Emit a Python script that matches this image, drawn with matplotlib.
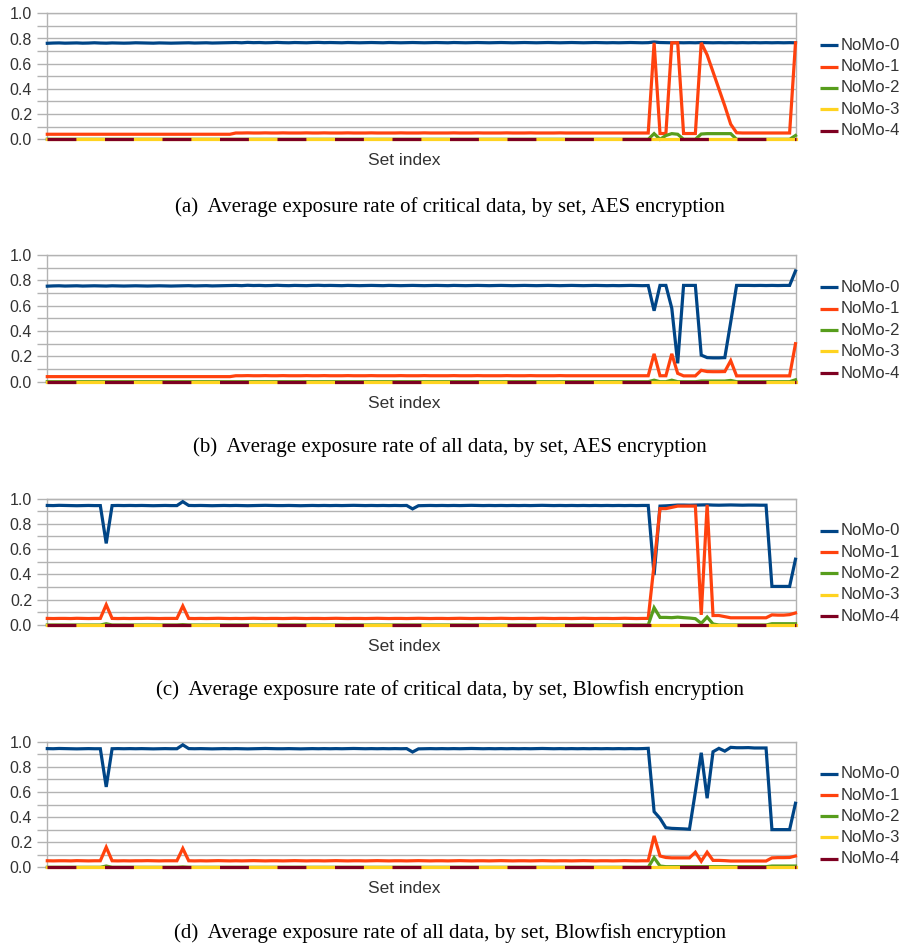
import matplotlib
matplotlib.use("Agg")
import matplotlib.pyplot as plt
from matplotlib.lines import Line2D
from matplotlib.ticker import MultipleLocator

plt.rcParams['lines.scale_dashes'] = False

series_names = ["NoMo-0", "NoMo-1", "NoMo-2", "NoMo-3", "NoMo-4"]
series_colors = ["#004586", "#ff420e", "#579d1c", "#ffd320", "#7e0021"]
x_label = "Set index"
captions = [
    "(a)  Average exposure rate of critical data, by set, AES encryption",
    "(b)  Average exposure rate of all data, by set, AES encryption",
    "(c)  Average exposure rate of critical data, by set, Blowfish encryption",
    "(d)  Average exposure rate of all data, by set, Blowfish encryption",
]
y_ticks = [0.0, 0.2, 0.4, 0.6, 0.8, 1.0]
y_tick_labels = ["0.0", "0.2", "0.4", "0.6", "0.8", "1.0"]

# ---------------- panel (a) ----------------
a_nomo0 = [
    0.762, 0.764, 0.765, 0.763, 0.764, 0.765, 0.763, 0.764, 0.766, 0.764, 0.763, 0.765, 0.764, 0.763, 0.764, 0.766,
    0.765, 0.764, 0.763, 0.765, 0.764, 0.763, 0.764, 0.765, 0.766, 0.764, 0.765, 0.766, 0.764, 0.765, 0.766, 0.767,
    0.768, 0.766, 0.769, 0.767, 0.768, 0.766, 0.767, 0.769, 0.767, 0.766, 0.768, 0.767, 0.766, 0.768, 0.769, 0.767,
    0.768, 0.767, 0.766, 0.768, 0.767, 0.766, 0.767, 0.768, 0.767, 0.766, 0.768, 0.767, 0.766, 0.767, 0.768, 0.767,
    0.766, 0.767, 0.768, 0.767, 0.766, 0.768, 0.767, 0.766, 0.767, 0.768, 0.767, 0.766, 0.767, 0.768, 0.767, 0.766,
    0.767, 0.768, 0.767, 0.766, 0.767, 0.768, 0.767, 0.766, 0.767, 0.768, 0.767, 0.766, 0.767, 0.768, 0.767, 0.766,
    0.767, 0.766, 0.767, 0.768, 0.767, 0.766, 0.767, 0.772, 0.768, 0.767, 0.766, 0.767, 0.766, 0.767, 0.766, 0.768,
    0.767, 0.766, 0.767, 0.766, 0.767, 0.766, 0.767, 0.766, 0.767, 0.766, 0.767, 0.766, 0.767, 0.766, 0.767, 0.766,
]
a_nomo1 = [
    0.040, 0.040, 0.040, 0.040, 0.040, 0.040, 0.040, 0.040, 0.040, 0.040, 0.040, 0.040, 0.040, 0.040, 0.040, 0.040,
    0.040, 0.040, 0.040, 0.040, 0.040, 0.040, 0.040, 0.040, 0.040, 0.040, 0.040, 0.040, 0.040, 0.040, 0.040, 0.040,
    0.050, 0.050, 0.051, 0.050, 0.050, 0.051, 0.050, 0.050, 0.051, 0.050, 0.050, 0.050, 0.051, 0.050, 0.050, 0.051,
    0.050, 0.050, 0.050, 0.051, 0.050, 0.050, 0.050, 0.051, 0.050, 0.050, 0.050, 0.050, 0.051, 0.050, 0.050, 0.050,
    0.051, 0.050, 0.050, 0.050, 0.050, 0.051, 0.050, 0.050, 0.050, 0.051, 0.050, 0.050, 0.050, 0.050, 0.051, 0.050,
    0.050, 0.050, 0.051, 0.050, 0.050, 0.050, 0.050, 0.051, 0.050, 0.050, 0.050, 0.050, 0.050, 0.050, 0.050, 0.050,
    0.050, 0.050, 0.050, 0.050, 0.050, 0.050, 0.050, 0.766, 0.046, 0.046, 0.766, 0.766, 0.046, 0.046, 0.046, 0.766,
    0.670, 0.535, 0.400, 0.265, 0.120, 0.052, 0.050, 0.050, 0.050, 0.050, 0.050, 0.050, 0.050, 0.050, 0.050, 0.766,
]
a_nomo2 = [
    0.0, 0.0, 0.0, 0.0, 0.0, 0.0, 0.0, 0.0, 0.0, 0.0, 0.0, 0.0, 0.0, 0.0, 0.0, 0.0,
    0.0, 0.0, 0.0, 0.0, 0.0, 0.0, 0.0, 0.0, 0.0, 0.0, 0.0, 0.0, 0.0, 0.0, 0.0, 0.0,
    0.0, 0.0, 0.0, 0.0, 0.0, 0.0, 0.0, 0.0, 0.0, 0.0, 0.0, 0.0, 0.0, 0.0, 0.0, 0.0,
    0.0, 0.0, 0.0, 0.0, 0.0, 0.0, 0.0, 0.0, 0.0, 0.0, 0.0, 0.0, 0.0, 0.0, 0.0, 0.0,
    0.0, 0.0, 0.0, 0.0, 0.0, 0.0, 0.0, 0.0, 0.0, 0.0, 0.0, 0.0, 0.0, 0.0, 0.0, 0.0,
    0.0, 0.0, 0.0, 0.0, 0.0, 0.0, 0.0, 0.0, 0.0, 0.0, 0.0, 0.0, 0.0, 0.0, 0.0, 0.0,
    0.0, 0.0, 0.0, 0.0, 0.0, 0.0, 0.0, 0.045, 0.0, 0.030, 0.045, 0.040, 0.0, 0.0, 0.0, 0.042,
    0.045, 0.045, 0.045, 0.045, 0.045, 0.0, 0.0, 0.0, 0.0, 0.0, 0.0, 0.0, 0.0, 0.0, 0.0, 0.030,
]

# ---------------- panel (b) ----------------
b_nomo0 = [
    0.754, 0.756, 0.757, 0.755, 0.756, 0.757, 0.755, 0.756, 0.757, 0.756, 0.755, 0.757, 0.756, 0.755, 0.756, 0.757,
    0.756, 0.755, 0.756, 0.757, 0.756, 0.755, 0.756, 0.757, 0.758, 0.756, 0.757, 0.758, 0.756, 0.757, 0.758, 0.759,
    0.760, 0.758, 0.761, 0.759, 0.760, 0.758, 0.759, 0.761, 0.759, 0.758, 0.760, 0.759, 0.758, 0.760, 0.761, 0.759,
    0.760, 0.759, 0.758, 0.760, 0.759, 0.758, 0.759, 0.760, 0.759, 0.758, 0.760, 0.759, 0.758, 0.759, 0.760, 0.759,
    0.758, 0.759, 0.760, 0.759, 0.758, 0.760, 0.759, 0.758, 0.759, 0.760, 0.759, 0.758, 0.759, 0.760, 0.759, 0.758,
    0.759, 0.760, 0.759, 0.758, 0.759, 0.760, 0.759, 0.758, 0.759, 0.760, 0.759, 0.758, 0.759, 0.760, 0.759, 0.758,
    0.759, 0.758, 0.759, 0.760, 0.759, 0.758, 0.759, 0.560, 0.760, 0.760, 0.580, 0.145, 0.760, 0.760, 0.760, 0.210,
    0.190, 0.188, 0.188, 0.190, 0.470, 0.760, 0.760, 0.760, 0.759, 0.760, 0.759, 0.760, 0.759, 0.760, 0.760, 0.874,
]
b_nomo1 = [
    0.040, 0.040, 0.040, 0.040, 0.040, 0.040, 0.040, 0.040, 0.040, 0.040, 0.040, 0.040, 0.040, 0.040, 0.040, 0.040,
    0.040, 0.040, 0.040, 0.040, 0.040, 0.040, 0.040, 0.040, 0.040, 0.040, 0.040, 0.040, 0.040, 0.040, 0.040, 0.040,
    0.047, 0.047, 0.048, 0.047, 0.047, 0.048, 0.047, 0.047, 0.048, 0.047, 0.047, 0.047, 0.048, 0.047, 0.047, 0.048,
    0.047, 0.047, 0.047, 0.048, 0.047, 0.047, 0.047, 0.048, 0.047, 0.047, 0.047, 0.047, 0.048, 0.047, 0.047, 0.047,
    0.048, 0.047, 0.047, 0.047, 0.047, 0.048, 0.047, 0.047, 0.047, 0.048, 0.047, 0.047, 0.047, 0.047, 0.048, 0.047,
    0.047, 0.047, 0.048, 0.047, 0.047, 0.047, 0.047, 0.048, 0.047, 0.047, 0.047, 0.047, 0.047, 0.047, 0.047, 0.047,
    0.047, 0.047, 0.047, 0.047, 0.047, 0.047, 0.047, 0.220, 0.047, 0.047, 0.220, 0.066, 0.046, 0.046, 0.046, 0.090,
    0.080, 0.079, 0.079, 0.080, 0.166, 0.046, 0.046, 0.046, 0.046, 0.046, 0.046, 0.046, 0.046, 0.046, 0.046, 0.300,
]
b_nomo2 = [
    0.0, 0.0, 0.0, 0.0, 0.0, 0.0, 0.0, 0.0, 0.0, 0.0, 0.0, 0.0, 0.0, 0.0, 0.0, 0.0,
    0.0, 0.0, 0.0, 0.0, 0.0, 0.0, 0.0, 0.0, 0.0, 0.0, 0.0, 0.0, 0.0, 0.0, 0.0, 0.0,
    0.0, 0.0, 0.0, 0.0, 0.0, 0.0, 0.0, 0.0, 0.0, 0.0, 0.0, 0.0, 0.0, 0.0, 0.0, 0.0,
    0.0, 0.0, 0.0, 0.0, 0.0, 0.0, 0.0, 0.0, 0.0, 0.0, 0.0, 0.0, 0.0, 0.0, 0.0, 0.0,
    0.0, 0.0, 0.0, 0.0, 0.0, 0.0, 0.0, 0.0, 0.0, 0.0, 0.0, 0.0, 0.0, 0.0, 0.0, 0.0,
    0.0, 0.0, 0.0, 0.0, 0.0, 0.0, 0.0, 0.0, 0.0, 0.0, 0.0, 0.0, 0.0, 0.0, 0.0, 0.0,
    0.0, 0.0, 0.0, 0.0, 0.0, 0.0, 0.0, 0.012, 0.0, 0.0, 0.012, 0.0, 0.0, 0.0, 0.0, 0.005,
    0.005, 0.005, 0.005, 0.005, 0.010, 0.0, 0.0, 0.0, 0.0, 0.0, 0.0, 0.0, 0.0, 0.0, 0.0, 0.015,
]

# ---------------- panel (c) ----------------
c_nomo0 = [
    0.945, 0.944, 0.946, 0.945, 0.944, 0.943, 0.944, 0.945, 0.944, 0.944, 0.645, 0.944, 0.945, 0.944, 0.945, 0.944,
    0.945, 0.944, 0.943, 0.944, 0.945, 0.944, 0.944, 0.975, 0.945, 0.944, 0.945, 0.944, 0.943, 0.944, 0.945, 0.944,
    0.945, 0.944, 0.943, 0.944, 0.945, 0.946, 0.945, 0.944, 0.944, 0.945, 0.944, 0.943, 0.944, 0.945, 0.944, 0.945,
    0.944, 0.945, 0.944, 0.945, 0.946, 0.945, 0.944, 0.945, 0.944, 0.945, 0.944, 0.945, 0.944, 0.945, 0.918, 0.943,
    0.944, 0.945, 0.944, 0.945, 0.944, 0.945, 0.944, 0.945, 0.946, 0.945, 0.944, 0.945, 0.944, 0.945, 0.944, 0.945,
    0.944, 0.945, 0.944, 0.945, 0.946, 0.945, 0.944, 0.945, 0.944, 0.945, 0.944, 0.945, 0.944, 0.945, 0.944, 0.945,
    0.944, 0.945, 0.944, 0.945, 0.944, 0.945, 0.945, 0.395, 0.940, 0.942, 0.945, 0.948, 0.948, 0.947, 0.948, 0.949,
    0.950, 0.948, 0.947, 0.948, 0.949, 0.948, 0.947, 0.948, 0.948, 0.947, 0.947, 0.305, 0.305, 0.305, 0.305, 0.520,
]
c_nomo1 = [
    0.052, 0.051, 0.052, 0.052, 0.051, 0.053, 0.052, 0.051, 0.052, 0.052, 0.160, 0.052, 0.051, 0.052, 0.051, 0.052,
    0.052, 0.053, 0.052, 0.051, 0.052, 0.052, 0.052, 0.150, 0.052, 0.051, 0.052, 0.051, 0.052, 0.053, 0.052, 0.051,
    0.052, 0.051, 0.052, 0.053, 0.052, 0.051, 0.052, 0.052, 0.051, 0.052, 0.053, 0.052, 0.051, 0.052, 0.052, 0.051,
    0.052, 0.053, 0.052, 0.051, 0.052, 0.052, 0.051, 0.052, 0.053, 0.052, 0.051, 0.052, 0.052, 0.051, 0.052, 0.053,
    0.052, 0.051, 0.052, 0.052, 0.051, 0.052, 0.053, 0.052, 0.051, 0.052, 0.052, 0.051, 0.052, 0.053, 0.052, 0.051,
    0.052, 0.052, 0.051, 0.052, 0.053, 0.052, 0.051, 0.052, 0.052, 0.051, 0.052, 0.053, 0.052, 0.051, 0.052, 0.052,
    0.051, 0.052, 0.053, 0.052, 0.051, 0.052, 0.052, 0.480, 0.920, 0.920, 0.930, 0.940, 0.940, 0.940, 0.940, 0.080,
    0.950, 0.075, 0.075, 0.066, 0.057, 0.057, 0.057, 0.057, 0.057, 0.057, 0.057, 0.080, 0.078, 0.078, 0.082, 0.095,
]
c_nomo2 = [
    0.0, 0.0, 0.0, 0.0, 0.0, 0.0, 0.0, 0.0, 0.0, 0.0, 0.010, 0.0, 0.0, 0.0, 0.0, 0.0,
    0.0, 0.0, 0.0, 0.0, 0.0, 0.0, 0.0, 0.003, 0.0, 0.0, 0.0, 0.0, 0.0, 0.0, 0.0, 0.0,
    0.0, 0.0, 0.0, 0.0, 0.0, 0.0, 0.0, 0.0, 0.0, 0.0, 0.0, 0.0, 0.0, 0.0, 0.0, 0.0,
    0.0, 0.0, 0.0, 0.0, 0.0, 0.0, 0.0, 0.0, 0.0, 0.0, 0.0, 0.0, 0.0, 0.0, 0.0, 0.0,
    0.0, 0.0, 0.0, 0.0, 0.0, 0.0, 0.0, 0.0, 0.0, 0.0, 0.0, 0.0, 0.0, 0.0, 0.0, 0.0,
    0.0, 0.0, 0.0, 0.0, 0.0, 0.0, 0.0, 0.0, 0.0, 0.0, 0.0, 0.0, 0.0, 0.0, 0.0, 0.0,
    0.0, 0.0, 0.0, 0.0, 0.0, 0.0, 0.0, 0.137, 0.060, 0.060, 0.058, 0.062, 0.058, 0.055, 0.050, 0.013,
    0.063, 0.008, 0.0, 0.0, 0.0, 0.0, 0.0, 0.0, 0.0, 0.0, 0.0, 0.010, 0.010, 0.010, 0.010, 0.010,
]

# ---------------- panel (d) ----------------
d_nomo0 = [
    0.945, 0.944, 0.946, 0.945, 0.944, 0.943, 0.944, 0.945, 0.944, 0.944, 0.640, 0.944, 0.945, 0.944, 0.945, 0.944,
    0.945, 0.944, 0.943, 0.944, 0.945, 0.944, 0.944, 0.975, 0.945, 0.944, 0.945, 0.944, 0.943, 0.944, 0.945, 0.944,
    0.945, 0.944, 0.943, 0.944, 0.945, 0.946, 0.945, 0.944, 0.944, 0.945, 0.944, 0.943, 0.944, 0.945, 0.944, 0.945,
    0.944, 0.945, 0.944, 0.945, 0.946, 0.945, 0.944, 0.945, 0.944, 0.945, 0.944, 0.945, 0.944, 0.945, 0.918, 0.943,
    0.944, 0.945, 0.944, 0.945, 0.944, 0.945, 0.944, 0.945, 0.946, 0.945, 0.944, 0.945, 0.944, 0.945, 0.944, 0.945,
    0.944, 0.945, 0.944, 0.945, 0.946, 0.945, 0.944, 0.945, 0.944, 0.945, 0.944, 0.945, 0.944, 0.945, 0.944, 0.945,
    0.944, 0.945, 0.944, 0.945, 0.944, 0.945, 0.947, 0.443, 0.390, 0.315, 0.310, 0.308, 0.306, 0.303, 0.600, 0.912,
    0.550, 0.920, 0.947, 0.925, 0.955, 0.952, 0.952, 0.953, 0.950, 0.950, 0.950, 0.300, 0.300, 0.300, 0.300, 0.510,
]
d_nomo1 = [
    0.052, 0.051, 0.052, 0.052, 0.051, 0.053, 0.052, 0.051, 0.052, 0.052, 0.160, 0.052, 0.051, 0.052, 0.051, 0.052,
    0.052, 0.053, 0.052, 0.051, 0.052, 0.052, 0.052, 0.150, 0.052, 0.051, 0.052, 0.051, 0.052, 0.053, 0.052, 0.051,
    0.052, 0.051, 0.052, 0.053, 0.052, 0.051, 0.052, 0.052, 0.051, 0.052, 0.053, 0.052, 0.051, 0.052, 0.052, 0.051,
    0.052, 0.053, 0.052, 0.051, 0.052, 0.052, 0.051, 0.052, 0.053, 0.052, 0.051, 0.052, 0.052, 0.051, 0.052, 0.053,
    0.052, 0.051, 0.052, 0.052, 0.051, 0.052, 0.053, 0.052, 0.051, 0.052, 0.052, 0.051, 0.052, 0.053, 0.052, 0.051,
    0.052, 0.052, 0.051, 0.052, 0.053, 0.052, 0.051, 0.052, 0.052, 0.051, 0.052, 0.053, 0.052, 0.051, 0.052, 0.052,
    0.051, 0.052, 0.053, 0.052, 0.051, 0.052, 0.052, 0.250, 0.090, 0.078, 0.075, 0.075, 0.075, 0.075, 0.120, 0.048,
    0.120, 0.055, 0.055, 0.053, 0.050, 0.050, 0.050, 0.050, 0.050, 0.050, 0.050, 0.075, 0.077, 0.077, 0.078, 0.090,
]
d_nomo2 = [
    0.0, 0.0, 0.0, 0.0, 0.0, 0.0, 0.0, 0.0, 0.0, 0.0, 0.010, 0.0, 0.0, 0.0, 0.0, 0.0,
    0.0, 0.0, 0.0, 0.0, 0.0, 0.0, 0.0, 0.003, 0.0, 0.0, 0.0, 0.0, 0.0, 0.0, 0.0, 0.0,
    0.0, 0.0, 0.0, 0.0, 0.0, 0.0, 0.0, 0.0, 0.0, 0.0, 0.0, 0.0, 0.0, 0.0, 0.0, 0.0,
    0.0, 0.0, 0.0, 0.0, 0.0, 0.0, 0.0, 0.0, 0.0, 0.0, 0.0, 0.0, 0.0, 0.0, 0.0, 0.0,
    0.0, 0.0, 0.0, 0.0, 0.0, 0.0, 0.0, 0.0, 0.0, 0.0, 0.0, 0.0, 0.0, 0.0, 0.0, 0.0,
    0.0, 0.0, 0.0, 0.0, 0.0, 0.0, 0.0, 0.0, 0.0, 0.0, 0.0, 0.0, 0.0, 0.0, 0.0, 0.0,
    0.0, 0.0, 0.0, 0.0, 0.0, 0.0, 0.0, 0.077, 0.010, 0.005, 0.005, 0.005, 0.005, 0.005, 0.005, 0.005,
    0.005, 0.005, 0.005, 0.005, 0.005, 0.005, 0.005, 0.005, 0.005, 0.005, 0.005, 0.010, 0.010, 0.010, 0.010, 0.010,
]

# NoMo-3 and NoMo-4 read as zero in every set of every panel
nomo3_all = [
    0.0, 0.0, 0.0, 0.0, 0.0, 0.0, 0.0, 0.0, 0.0, 0.0, 0.0, 0.0, 0.0, 0.0, 0.0, 0.0,
    0.0, 0.0, 0.0, 0.0, 0.0, 0.0, 0.0, 0.0, 0.0, 0.0, 0.0, 0.0, 0.0, 0.0, 0.0, 0.0,
    0.0, 0.0, 0.0, 0.0, 0.0, 0.0, 0.0, 0.0, 0.0, 0.0, 0.0, 0.0, 0.0, 0.0, 0.0, 0.0,
    0.0, 0.0, 0.0, 0.0, 0.0, 0.0, 0.0, 0.0, 0.0, 0.0, 0.0, 0.0, 0.0, 0.0, 0.0, 0.0,
    0.0, 0.0, 0.0, 0.0, 0.0, 0.0, 0.0, 0.0, 0.0, 0.0, 0.0, 0.0, 0.0, 0.0, 0.0, 0.0,
    0.0, 0.0, 0.0, 0.0, 0.0, 0.0, 0.0, 0.0, 0.0, 0.0, 0.0, 0.0, 0.0, 0.0, 0.0, 0.0,
    0.0, 0.0, 0.0, 0.0, 0.0, 0.0, 0.0, 0.0, 0.0, 0.0, 0.0, 0.0, 0.0, 0.0, 0.0, 0.0,
    0.0, 0.0, 0.0, 0.0, 0.0, 0.0, 0.0, 0.0, 0.0, 0.0, 0.0, 0.0, 0.0, 0.0, 0.0, 0.0,
]
nomo4_all = [
    0.0, 0.0, 0.0, 0.0, 0.0, 0.0, 0.0, 0.0, 0.0, 0.0, 0.0, 0.0, 0.0, 0.0, 0.0, 0.0,
    0.0, 0.0, 0.0, 0.0, 0.0, 0.0, 0.0, 0.0, 0.0, 0.0, 0.0, 0.0, 0.0, 0.0, 0.0, 0.0,
    0.0, 0.0, 0.0, 0.0, 0.0, 0.0, 0.0, 0.0, 0.0, 0.0, 0.0, 0.0, 0.0, 0.0, 0.0, 0.0,
    0.0, 0.0, 0.0, 0.0, 0.0, 0.0, 0.0, 0.0, 0.0, 0.0, 0.0, 0.0, 0.0, 0.0, 0.0, 0.0,
    0.0, 0.0, 0.0, 0.0, 0.0, 0.0, 0.0, 0.0, 0.0, 0.0, 0.0, 0.0, 0.0, 0.0, 0.0, 0.0,
    0.0, 0.0, 0.0, 0.0, 0.0, 0.0, 0.0, 0.0, 0.0, 0.0, 0.0, 0.0, 0.0, 0.0, 0.0, 0.0,
    0.0, 0.0, 0.0, 0.0, 0.0, 0.0, 0.0, 0.0, 0.0, 0.0, 0.0, 0.0, 0.0, 0.0, 0.0, 0.0,
    0.0, 0.0, 0.0, 0.0, 0.0, 0.0, 0.0, 0.0, 0.0, 0.0, 0.0, 0.0, 0.0, 0.0, 0.0, 0.0,
]

panels = [
    [a_nomo0, a_nomo1, a_nomo2, nomo3_all, nomo4_all],
    [b_nomo0, b_nomo1, b_nomo2, nomo3_all, nomo4_all],
    [c_nomo0, c_nomo1, c_nomo2, nomo3_all, nomo4_all],
    [d_nomo0, d_nomo1, d_nomo2, nomo3_all, nomo4_all],
]

# ---------------- layout (pixels of a 901x947 canvas) ----------------
W, H = 901, 947
fig = plt.figure(figsize=(W / 100, H / 100), dpi=100)

plot_left, plot_right = 47.3, 795.5
axes_top_bottom = [(13.3, 139.3), (255.0, 381.7), (498.5, 625.0), (741.7, 867.3)]
caption_y = [207, 447, 690, 933]
legend_fracs = [0.745, 0.575, 0.408, 0.240, 0.068]

grid_col = "#b3b3b3"
text_col = "#333333"
sans = ["Liberation Sans", "DejaVu Sans"]
serif = ["Liberation Serif", "DejaVu Serif"]

for p, (series, (top, bot)) in enumerate(zip(panels, axes_top_bottom)):
    ax = fig.add_axes([plot_left / W, 1 - bot / H, (plot_right - plot_left) / W, (bot - top) / H])
    x = list(range(len(series[0])))
    for k, (vals, col) in enumerate(zip(series, series_colors)):
        kw = dict(color=col, lw=2.3, solid_joinstyle="miter", clip_on=False, zorder=3 + k)
        if k == 4:
            kw["linestyle"] = (0, (20.8, 20.6))
            kw["dash_capstyle"] = "butt"
        ax.plot(x, vals, **kw)
    ax.set_xlim(0, len(x) - 1)
    ax.set_ylim(0, 1)
    ax.yaxis.set_major_locator(MultipleLocator(0.2))
    ax.yaxis.set_minor_locator(MultipleLocator(0.1))
    ax.set_yticks(y_ticks)
    ax.set_yticklabels(y_tick_labels, fontfamily=sans, fontsize=11.5, color=text_col)
    ax.tick_params(axis="y", which="both", length=7, width=1, color=grid_col, pad=4)
    ax.tick_params(axis="x", which="both", bottom=False, labelbottom=False)
    ax.grid(True, axis="y", which="both", color=grid_col, lw=1.0, zorder=0)
    ax.set_axisbelow(True)
    for s in ax.spines.values():
        s.set_color(grid_col)
        s.set_linewidth(1.0)
    ax.text((404 - plot_left) / (plot_right - plot_left), -(21.5) / (bot - top), x_label,
            transform=ax.transAxes, ha="center", va="center", fontsize=12.5,
            color=text_col, fontfamily=sans)
    # legend
    for name, col, fr in zip(series_names, series_colors, legend_fracs):
        yy = 1 - (bot - fr * (bot - top)) / H
        fig.add_artist(Line2D([820 / W, 838 / W], [yy, yy], color=col, lw=2.3,
                              transform=fig.transFigure, solid_capstyle="butt"))
        fig.text(841 / W, yy, name, ha="left", va="center", fontsize=12,
                 color=text_col, fontfamily=sans)
    fig.text(450 / W, 1 - caption_y[p] / H, captions[p], ha="center", va="center",
             fontsize=15, color="black", fontfamily=serif)

fig.savefig("out.png", dpi=100)
